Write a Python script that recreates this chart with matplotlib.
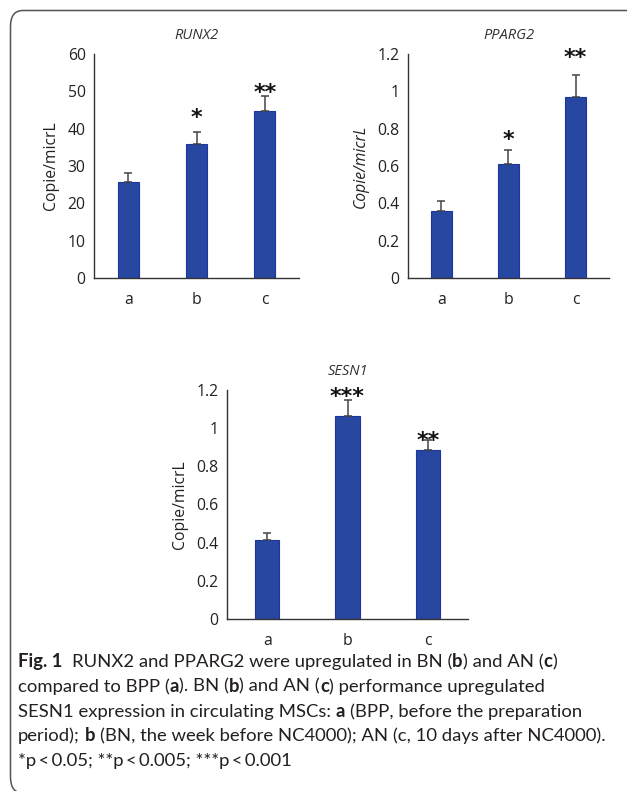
import numpy as np
import matplotlib
matplotlib.use('Agg')
import matplotlib.pyplot as plt
from matplotlib.patches import FancyBboxPatch

groups = ['a', 'b', 'c']

runx2_mean = [25.8, 35.8, 44.8]
runx2_err = [2.2, 3.2, 3.9]
runx2_stars = ['', '*', '**']
runx2_star_y = [0, 44.5, 51.2]

pparg2_mean = [0.357, 0.609, 0.970]
pparg2_err = [0.053, 0.075, 0.12]
pparg2_stars = ['', '*', '**']
pparg2_star_y = [0, 0.77, 1.21]

sesn1_mean = [0.416, 1.066, 0.884]
sesn1_err = [0.036, 0.082, 0.054]
sesn1_stars = ['', '***', '**']
sesn1_star_y = [0, 1.195, 0.966]

W, H = 627, 791
BAR = '#2747a1'
EDGE = '#1b36a3'
TXT = '#222222'
STAR_PT = 16

plt.rcParams['font.family'] = ['Open Sans', 'DejaVu Sans']

fig = plt.figure(figsize=(W / 100, H / 100), dpi=100)


def px_axes(left, top, right, bottom):
    # pixel box (y down) -> figure fraction
    return fig.add_axes([left / W, 1 - bottom / H, (right - left) / W, (bottom - top) / H])


def bar_panel(ax, means, errs, stars, star_y, ymax, step, title, italic_label, width):
    x = np.arange(len(groups))
    ax.bar(x, means, width=width, color=BAR, edgecolor=EDGE, linewidth=0.8, zorder=2)
    ax.errorbar(x, means, yerr=[np.zeros(len(errs)), errs], fmt='none',
                ecolor='#444444', elinewidth=1.1, capsize=3.2, capthick=1.1, zorder=3)
    for xi, s, sy in zip(x, stars, star_y):
        if s:
            # asterisk glyph sits ~0.55 em above the baseline
            ax.annotate(s, (xi, sy), xytext=(0, -0.55 * STAR_PT), textcoords='offset points',
                        ha='center', va='baseline', fontsize=STAR_PT, weight='bold',
                        family='DejaVu Sans', color='#111111', annotation_clip=False)
    ax.set_xlim(-0.5, len(groups) - 0.5)
    ax.set_ylim(0, ymax)
    ticks = np.arange(0, ymax + step / 2, step)
    ax.set_yticks(ticks)
    ax.set_yticklabels(['%g' % round(t, 1) for t in ticks])
    ax.set_xticks(x)
    ax.set_xticklabels(groups)
    ax.tick_params(axis='both', length=0, labelsize=11.3, colors=TXT)
    ax.tick_params(axis='y', pad=6)
    ax.tick_params(axis='x', pad=10)
    for side in ['top', 'right']:
        ax.spines[side].set_visible(False)
    for side in ['left', 'bottom']:
        ax.spines[side].set_color('#333333')
        ax.spines[side].set_linewidth(1.0)
    ax.set_ylabel('Copie/micrL', fontsize=11.3, color=TXT,
                  style='italic' if italic_label else 'normal', labelpad=6)
    ax.set_title(title, fontsize=10.5, style='italic', color='#333333', pad=11)


ax1 = px_axes(94, 54, 299, 278)
bar_panel(ax1, runx2_mean, runx2_err, runx2_stars, runx2_star_y, 60, 10, 'RUNX2', False, 0.31)

ax2 = px_axes(408, 54, 609, 278)
bar_panel(ax2, pparg2_mean, pparg2_err, pparg2_stars, pparg2_star_y, 1.2, 0.2, 'PPARG2', True, 0.30)

ax3 = px_axes(227, 390, 468, 619)
bar_panel(ax3, sesn1_mean, sesn1_err, sesn1_stars, sesn1_star_y, 1.2, 0.2, 'SESN1', False, 0.30)

# frame around the whole figure (only top/left visible)
frame = FancyBboxPatch((10.5 / W, 1 - 793 / H), (660 - 10.5) / W, (793 - 10.5) / H,
                       boxstyle='round,pad=0,rounding_size=0.02', transform=fig.transFigure,
                       facecolor='none', edgecolor='#555555', linewidth=1.1)
fig.patches.append(frame)

# caption with bold fragments
cap_font = ['Lato', 'DejaVu Sans']
cap_size = 13.3
renderer = fig.canvas.get_renderer()


def text_w(s, weight):
    t = fig.text(0, 0, s, fontsize=cap_size, family=cap_font, weight=weight)
    w = t.get_window_extent(renderer).width
    t.remove()
    return w


space_w = text_w('a a', 'normal') - text_w('aa', 'normal')


def rich_line(x0, y0, segments):
    x = x0
    for s, weight in segments:
        lead = len(s) - len(s.lstrip(' '))
        trail = len(s) - len(s.rstrip(' '))
        core = s.strip(' ')
        x += lead * space_w
        t = fig.text(x / W, 1 - y0 / H, core, fontsize=cap_size, family=cap_font,
                     weight=weight, color='#231f20', va='baseline', ha='left')
        x += t.get_window_extent(renderer).width + trail * space_w


n, b = 'normal', 'bold'
caption = [
    [('Fig. 1', b), ('  RUNX2 and PPARG2 were upregulated in BN (', n), ('b', b),
     (') and AN (', n), ('c', b), (')', n)],
    [('compared to BPP (', n), ('a', b), ('). BN (', n), ('b', b), (') and AN (', n),
     ('c', b), (') performance upregulated', n)],
    [('SESN1 expression in circulating MSCs: ', n), ('a', b),
     (' (BPP, before the preparation', n)],
    [('period); ', n), ('b', b), (' (BN, the week before NC4000); AN (c, 10 days after NC4000).', n)],
    [('*p\u2009<\u20090.05; **p\u2009<\u20090.005; ***p\u2009<\u20090.001', n)],
]
for i, line in enumerate(caption):
    rich_line(18, 667 + i * 24.8, line)

fig.savefig('out.png', dpi=100)
